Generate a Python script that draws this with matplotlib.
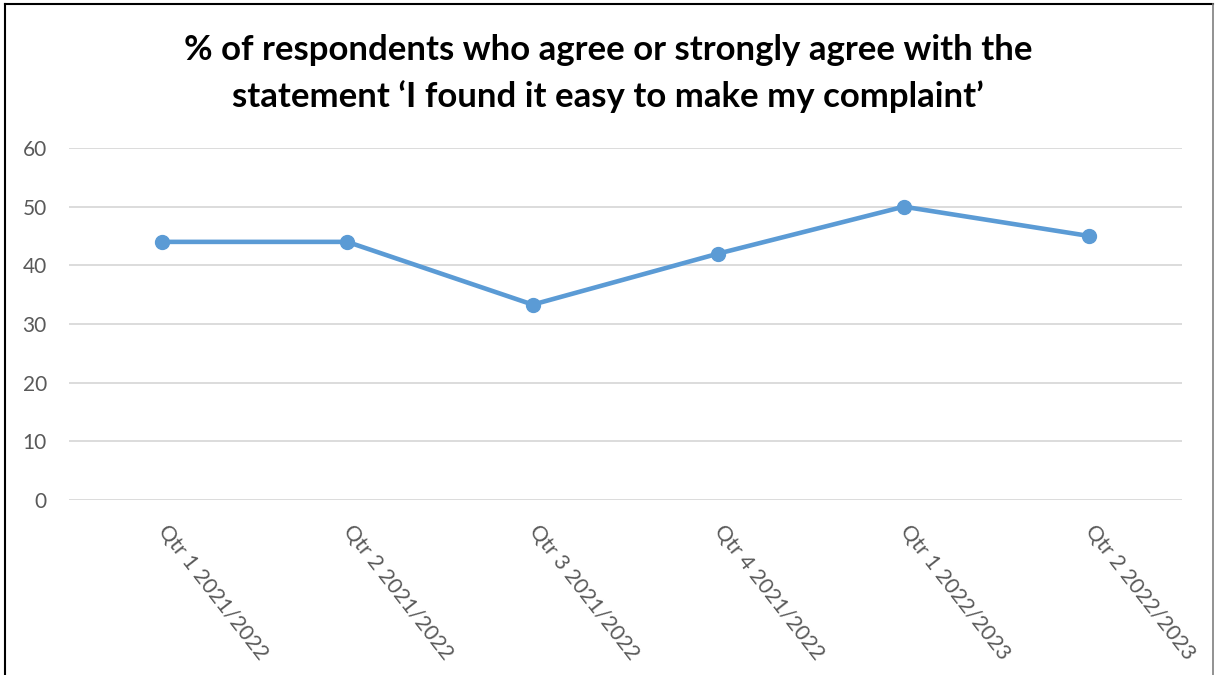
import matplotlib
matplotlib.use("Agg")
import matplotlib.pyplot as plt
from matplotlib.lines import Line2D
from matplotlib.transforms import ScaledTranslation

categories = ["Qtr 1 2021/2022", "Qtr 2 2021/2022", "Qtr 3 2021/2022",
              "Qtr 4 2021/2022", "Qtr 1 2022/2023", "Qtr 2 2022/2023"]
values = [44, 44, 33.3, 42, 50, 45]
yticks = [0, 10, 20, 30, 40, 50, 60]
title_lines = ["% of respondents who agree or strongly agree with the",
               "statement \u2018I found it easy to make my complaint\u2019"]

plt.rcParams['font.family'] = ['Lato', 'DejaVu Sans']

W, H = 1216, 675
fig = plt.figure(figsize=(W / 100, H / 100), dpi=100)
ax = fig.add_axes([69 / W, 1 - 500 / H, (1182 - 69) / W, (500 - 148) / H])

x = list(range(len(categories)))
ax.plot(x, values, color="#5B9BD5", linewidth=3.3, marker="o", markersize=10,
        solid_capstyle="round", zorder=3)

ax.set_xlim(-0.5, len(categories) - 0.5)
ax.set_ylim(0, 60)
ax.set_yticks(yticks)
ax.set_yticklabels([str(v) for v in yticks])
ax.set_xticks(x)
ax.set_xticklabels(categories, rotation=-52, ha="left", va="top", rotation_mode="anchor")
ax.tick_params(axis="both", length=0, labelsize=15, labelcolor="#595959")
ax.tick_params(axis="x", labelsize=15.5, pad=15)
ax.tick_params(axis="y", pad=16)
offset = ScaledTranslation(8 / 100, 0, fig.dpi_scale_trans)
for lab in ax.get_xticklabels():
    lab.set_transform(lab.get_transform() + offset)
ax.grid(axis="y", color="#D9D9D9", linewidth=1.3)
ax.set_axisbelow(True)
for s in ax.spines.values():
    s.set_visible(False)

baselines = [60, 107]
for line, by in zip(title_lines, baselines):
    fig.text(0.5, 1 - by / H, line, ha="center", va="baseline", fontsize=25,
             fontweight="bold", color="black")

# outer frame
fig.add_artist(Line2D([5 / W, 5 / W], [0, 1 - 4 / H], color="black", linewidth=1.5, transform=fig.transFigure))
fig.add_artist(Line2D([5 / W, 1213 / W], [1 - 4 / H, 1 - 4 / H], color="black", linewidth=1.5, transform=fig.transFigure))
fig.add_artist(Line2D([1213 / W, 1213 / W], [0, 1 - 4 / H], color="#7F7F7F", linewidth=1.2, transform=fig.transFigure))

fig.savefig("out.png", dpi=100)
